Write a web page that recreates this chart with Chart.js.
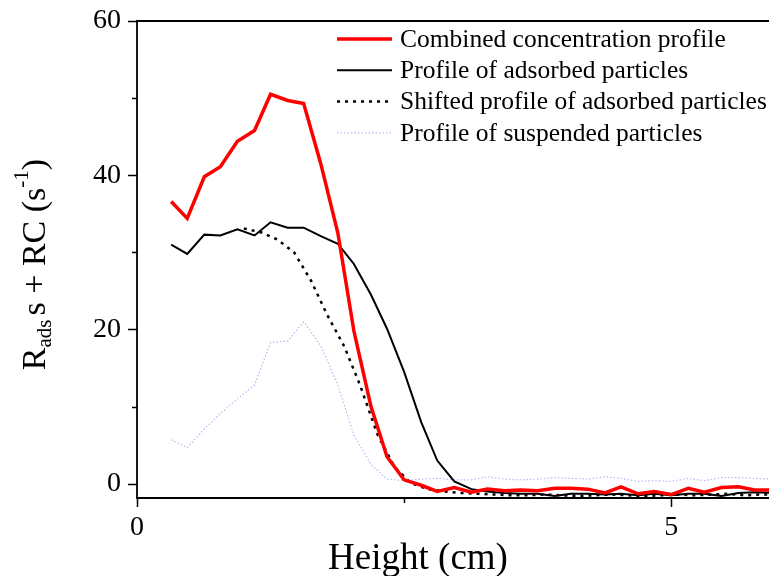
<!DOCTYPE html>
<html>
<head>
<meta charset="utf-8">
<script src="https://cdn.jsdelivr.net/npm/chart.js@4.4.0/dist/chart.umd.min.js"></script>
<style>
  html, body { margin: 0; padding: 0; background: #fff; }
  #wrap { width: 769px; height: 576px; position: relative; }
</style>
</head>
<body>
<div id="wrap"><canvas id="profileChart"></canvas></div>
<script>
// Measurement heights (cm) shared by the measured profiles
const heights = [0.32, 0.47, 0.63, 0.78, 0.94, 1.10, 1.25, 1.41, 1.56, 1.72,
                 1.88, 2.03, 2.19, 2.34, 2.50, 2.66, 2.81, 2.97, 3.13, 3.28,
                 3.44, 3.59, 3.75, 3.91, 4.06, 4.22, 4.38, 4.53, 4.69, 4.84,
                 5.00, 5.16, 5.31, 5.47, 5.63, 5.78, 5.94];

const combined = [36.6, 34.4, 39.8, 41.1, 44.4, 45.8, 50.5, 49.7, 49.3, 41.5,
                  32.5, 19.8, 10.0, 3.5, 0.5, -0.2, -1.0, -0.5, -1.1, -0.7,
                  -0.9, -0.8, -0.9, -0.6, -0.6, -0.7, -1.2, -0.4, -1.3, -1.0,
                  -1.4, -0.6, -1.1, -0.5, -0.4, -0.8, -0.8];

const adsorbed = [31.0, 29.8, 32.3, 32.2, 33.0, 32.2, 33.9, 33.2, 33.2, 32.1,
                  31.1, 28.5, 24.5, 20.1, 14.5, 8.0, 3.0, 0.3, -0.7, -1.0,
                  -1.2, -1.3, -1.3, -1.6, -1.3, -1.3, -1.4, -1.3, -1.5, -1.3,
                  -1.5, -1.3, -1.3, -1.6, -1.2, -1.1, -1.2];

const suspended = [5.7, 4.7, 7.1, 9.1, 11.0, 12.8, 18.3, 18.5, 21.0, 17.9,
                   12.8, 6.3, 2.5, 0.6, 0.4, 0.6, 0.7, 0.5, 0.5, 0.9,
                   0.6, 0.5, 0.6, 0.8, 0.7, 0.6, 0.9, 0.7, 0.3, 0.4,
                   0.3, 0.7, 0.4, 0.8, 0.8, 0.7, 0.6];

// Adsorbed profile moved down the column
const shiftedHeights = [1.00, 1.16, 1.31, 1.47, 1.63, 1.78, 1.94, 2.09, 2.25, 2.41,
                        2.56, 2.72, 2.88, 3.03, 3.19, 3.34, 3.50, 3.66, 3.81, 3.97,
                        4.13, 4.28, 4.44, 4.59, 4.75, 4.91, 5.06, 5.22, 5.38, 5.53,
                        5.69, 5.84, 6.00];
const shifted = [33.1, 32.6, 31.7, 30.0, 26.3, 21.9, 17.8, 12.7, 6.4, 2.2,
                 0.1, -0.7, -1.0, -1.2, -1.3, -1.4, -1.5, -1.5, -1.4, -1.5,
                 -1.6, -1.5, -1.4, -1.5, -1.6, -1.5, -1.4, -1.5, -1.4, -1.3,
                 -1.5, -1.4, -1.4];

const seriesLabels = ['Combined concentration profile', 'Profile of adsorbed particles',
                      'Shifted profile of adsorbed particles', 'Profile of suspended particles'];

const xTicks = [0, 2.5, 5];
const xLabelled = [0, 5];
const yTicks = [0, 10, 20, 30, 40, 50, 60];
const yLabelled = [0, 20, 40, 60];

const SERIF = "'Liberation Serif', 'Times New Roman', serif";

const toPoints = (xs, ys) => ys.map((y, i) => ({ x: xs[i], y }));

// Axis lines plus outward tick marks (long for labelled, short for minor)
const axisFrame = {
    id: 'axisFrame',
    afterDraw(chart) {
        const { ctx, chartArea: a, scales } = chart;
        ctx.save();
        ctx.strokeStyle = '#000';
        ctx.lineWidth = 1.8;
        ctx.beginPath();
        ctx.moveTo(a.right + 5, a.top);
        ctx.lineTo(a.left, a.top);
        ctx.lineTo(a.left, a.bottom);
        ctx.lineTo(a.right + 5, a.bottom);
        ctx.stroke();

        ctx.lineWidth = 1.5;
        ctx.beginPath();
        scales.y.ticks.forEach(t => {
            const py = Math.round(scales.y.getPixelForValue(t.value)) + 0.5;
            const len = yLabelled.includes(t.value) ? 9 : 5;
            ctx.moveTo(a.left, py);
            ctx.lineTo(a.left - len, py);
        });
        scales.x.ticks.forEach(t => {
            const px = Math.round(scales.x.getPixelForValue(t.value)) + 0.5;
            const len = xLabelled.includes(t.value) ? 9 : 5;
            ctx.moveTo(px, a.bottom);
            ctx.lineTo(px, a.bottom + len);
        });
        ctx.stroke();
        ctx.restore();
    }
};

// Axis titles; the y title needs a subscript and a superscript
const axisTitles = {
    id: 'axisTitles',
    afterDraw(chart) {
        const { ctx, chartArea: a } = chart;
        ctx.save();
        ctx.fillStyle = '#000';

        ctx.font = `37px ${SERIF}`;
        ctx.textAlign = 'center';
        ctx.textBaseline = 'alphabetic';
        ctx.fillText('Height (cm)', 418, 569);

        const parts = [
            { t: 'R', size: 34, dy: 0 },
            { t: 'ads', size: 21, dy: 6 },
            { t: 's + RC (s', size: 34, dy: 0, gap: 4 },
            { t: '-1', size: 21, dy: -17 },
            { t: ')', size: 34, dy: 0 }
        ];
        ctx.textAlign = 'left';
        let total = 0;
        parts.forEach(p => {
            ctx.font = `${p.size}px ${SERIF}`;
            p.w = ctx.measureText(p.t).width;
            total += p.w + (p.gap || 0);
        });
        ctx.translate(45, (a.top + a.bottom) / 2 + 5);
        ctx.rotate(-Math.PI / 2);
        let x = -total / 2;
        parts.forEach(p => {
            x += p.gap || 0;
            ctx.font = `${p.size}px ${SERIF}`;
            ctx.fillText(p.t, x, p.dy);
            x += p.w;
        });
        ctx.restore();
    }
};

// Legend without a box in the upper right: line sample then label
const lineLegend = {
    id: 'lineLegend',
    afterDraw(chart) {
        const { ctx } = chart;
        const x0 = 337, x1 = 392, textX = 400, top = 39, step = 31.3;
        ctx.save();
        ctx.font = `25.5px ${SERIF}`;
        ctx.textBaseline = 'middle';
        ctx.textAlign = 'left';
        chart.data.datasets.forEach((ds, i) => {
            const y = top + i * step;
            ctx.strokeStyle = ds.borderColor;
            ctx.lineWidth = ds.borderWidth;
            ctx.setLineDash(ds.borderDash || []);
            ctx.beginPath();
            ctx.moveTo(x0, y);
            ctx.lineTo(x1, y);
            ctx.stroke();
            ctx.setLineDash([]);
            ctx.fillStyle = '#000';
            ctx.fillText(ds.label, textX, y + 1);
        });
        ctx.restore();
    }
};

const ctx = document.getElementById('profileChart').getContext('2d');
new Chart(ctx, {
    type: 'line',
    data: {
        datasets: [
            {
                label: seriesLabels[0],
                data: toPoints(heights, combined),
                borderColor: '#ff0000',
                borderWidth: 3.5
            },
            {
                label: seriesLabels[1],
                data: toPoints(heights, adsorbed),
                borderColor: '#000000',
                borderWidth: 2
            },
            {
                label: seriesLabels[2],
                data: toPoints(shiftedHeights, shifted),
                borderColor: '#000000',
                borderWidth: 2.5,
                borderDash: [3, 5]
            },
            {
                label: seriesLabels[3],
                data: toPoints(heights, suspended),
                borderColor: '#b8b8f4',
                borderWidth: 1.2,
                borderDash: [1.5, 2]
            }
        ]
    },
    options: {
        responsive: true,
        maintainAspectRatio: false,
        animation: false,
        layout: { padding: { top: 21, left: 0, right: 0, bottom: 0 } },
        elements: {
            point: { radius: 0 },
            line: { tension: 0, fill: false, borderCapStyle: 'butt', borderJoinStyle: 'miter' }
        },
        plugins: {
            legend: { display: false },
            tooltip: { enabled: false }
        },
        scales: {
            x: {
                type: 'linear',
                position: 'bottom',
                min: 0,
                max: 5.915,
                grid: { display: false, drawTicks: false },
                border: { display: false },
                afterFit: scale => {
                    scale.height = 78;
                    scale.paddingLeft = 0;
                    scale.paddingRight = 0;
                },
                afterBuildTicks: scale => { scale.ticks = xTicks.map(v => ({ value: v })); },
                ticks: {
                    color: '#000',
                    padding: 13,
                    maxRotation: 0,
                    font: { family: SERIF, size: 28 },
                    callback: v => (xLabelled.includes(v) ? String(v) : '')
                }
            },
            y: {
                type: 'linear',
                min: -1.85,
                max: 60,
                grid: { display: false, drawTicks: false },
                border: { display: false },
                afterFit: scale => {
                    scale.width = 137;
                    scale.paddingTop = 0;
                    scale.paddingBottom = 0;
                },
                afterBuildTicks: scale => { scale.ticks = yTicks.map(v => ({ value: v })); },
                ticks: {
                    color: '#000',
                    padding: 16,
                    font: { family: SERIF, size: 28 },
                    callback: v => (yLabelled.includes(v) ? String(v) : '')
                }
            }
        }
    },
    plugins: [axisFrame, axisTitles, lineLegend]
});
</script>
</body>
</html>
